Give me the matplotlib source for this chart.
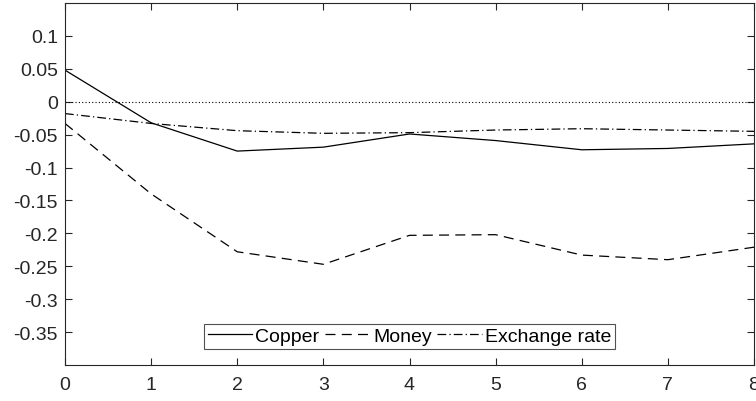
import numpy as np
import matplotlib
matplotlib.use("Agg")
import matplotlib.pyplot as plt

plt.rcParams['font.family'] = ['Liberation Sans', 'DejaVu Sans']

horizon = [0, 1, 2, 3, 4, 5, 6, 7, 8]
copper = [0.048, -0.032, -0.075, -0.069, -0.049, -0.059, -0.073, -0.071, -0.064]
money = [-0.033, -0.140, -0.228, -0.247, -0.203, -0.202, -0.233, -0.240, -0.221]
exchange = [-0.018, -0.033, -0.044, -0.048, -0.047, -0.043, -0.041, -0.043, -0.045]
yticks = [-0.35, -0.3, -0.25, -0.2, -0.15, -0.1, -0.05, 0, 0.05, 0.1]
ylabels = ['-0.35', '-0.3', '-0.25', '-0.2', '-0.15', '-0.1', '-0.05', '0', '0.05', '0.1']

fig = plt.figure(figsize=(7.56, 4.02), dpi=100)
ax = fig.add_axes([65 / 756, 36 / 402, 689 / 756, 362 / 402])

ax.plot(horizon, copper, color='black', lw=0.9, ls='-', label='Copper')
ax.plot(horizon, money, color='black', lw=0.9, ls=(0, (8, 5)), label='Money')
ax.plot(horizon, exchange, color='black', lw=0.9, ls=(0, (7, 2.5, 1, 2.5)), label='Exchange rate')
ax.axhline(0, color='black', lw=0.8, ls=(0, (1, 2)))

ax.set_xlim(0, 8)
ax.set_ylim(-0.4, 0.15)
ax.set_xticks(horizon)
ax.set_yticks(yticks)
ax.set_yticklabels(ylabels)
ax.tick_params(direction='in', top=True, right=True, labelsize=14, length=5,
               color='#262626', labelcolor='#262626', width=0.8, pad=5)
ax.tick_params(axis='x', pad=8)
for s in ax.spines.values():
    s.set_color('#262626')
    s.set_linewidth(0.8)

leg = ax.legend(loc='lower center', bbox_to_anchor=(0.5, 0.044), ncol=3, fontsize=14,
                frameon=True, fancybox=False, handlelength=2.3, handletextpad=0.15,
                columnspacing=0.3, borderpad=0.2, borderaxespad=0)
leg.get_frame().set_edgecolor('#262626')
leg.get_frame().set_linewidth(0.8)

fig.savefig('out.png', dpi=100)
